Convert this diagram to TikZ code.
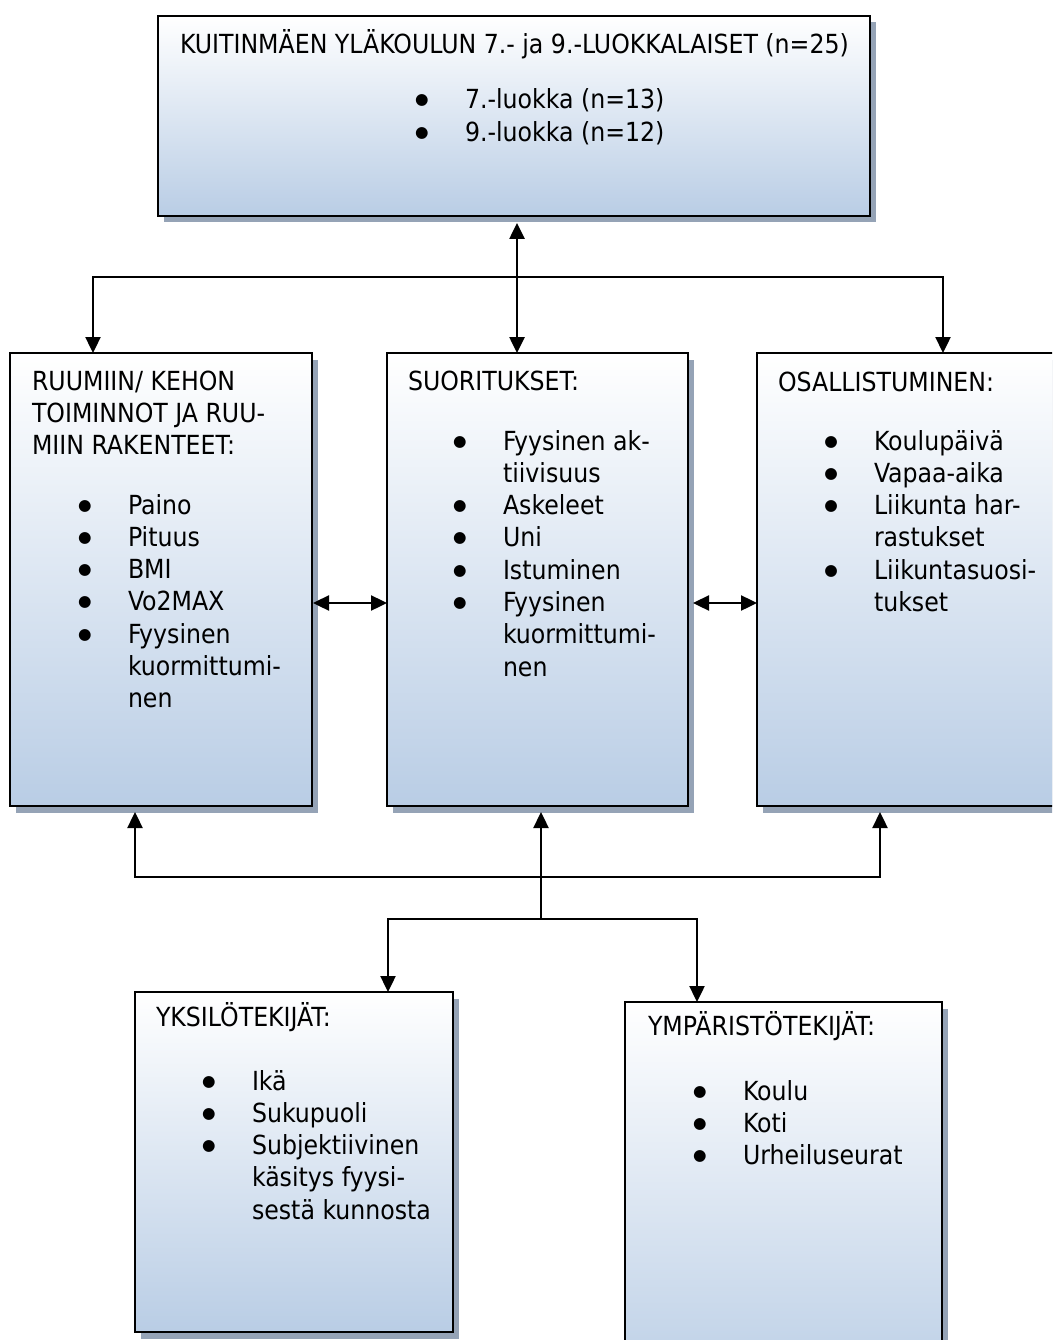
\documentclass[tikz,border=0pt]{standalone}
\usepackage{fontspec}
\setmainfont{DejaVu Sans Condensed}
\newfontfamily\bulfont{DejaVu Sans}
\usetikzlibrary{arrows.meta,shadows}
\definecolor{boxblue}{RGB}{185,205,229}
\definecolor{shadowc}{RGB}{149,163,182}
\newcommand{\bl}{\makebox[0pt]{\raisebox{4pt}{\fontsize{15.5}{15.5}\bulfont ●}}}
\newenvironment{blist}{\begin{tabular}[t]{@{}p{43pt}@{}l@{}}}{\end{tabular}}
\begin{document}
\begin{tikzpicture}[x=1pt,y=-1pt,
  every node/.style={font=\fontsize{26.3}{32.3}\selectfont, inner sep=0pt, outer sep=0pt},
  boxnode/.style={draw=black, line width=2.8pt, top color=white, bottom color=boxblue,
    drop shadow={shadow xshift=5.5pt, shadow yshift=-6.5pt, fill=shadowc, opacity=1},
    anchor=north west, rectangle},
  txt/.style={anchor=base west, align=left},
  conn/.style={line width=2.4pt, -{Triangle[length=16pt,width=15pt]}},
  dconn/.style={line width=2.4pt, {Triangle[length=16pt,width=15pt]}-{Triangle[length=16pt,width=15pt]}}
]
\useasboundingbox (0,0) rectangle (1052,1340);
\clip (0,0) rectangle (1052,1340);

% boxes
\node[boxnode, minimum width=712pt, minimum height=200pt] (top) at (158,16) {};
\node[boxnode, minimum width=302pt, minimum height=453pt] (lft) at (10,353) {};
\node[boxnode, minimum width=301pt, minimum height=453pt] (cen) at (387,353) {};
\node[boxnode, minimum width=302pt, minimum height=453pt] (rgt) at (757,353) {};
\node[boxnode, minimum width=318pt, minimum height=340pt] (yks) at (135,992) {};
\node[boxnode, minimum width=317pt, minimum height=400pt] (ymp) at (625,1002) {};

% texts
\node[txt] (topT) at (180,53.5) {KUITINMÄEN YLÄKOULUN 7.- ja 9.-LUOKKALAISET (n=25)};
\node[txt] (topL) at (422,109) {\begin{blist}\bl & 7.-luokka (n=13)\\ \bl & 9.-luokka (n=12)\end{blist}};

\node[txt] (lftT) at (32,390) {\begin{tabular}[t]{@{}l@{}}RUUMIIN/ KEHON\\ TOIMINNOT JA RUU-\\ MIIN RAKENTEET:\end{tabular}};
\node[txt] (lftL) at (85,514) {\begin{blist}\bl & Paino\\ \bl & Pituus\\ \bl & BMI\\ \bl & Vo2MAX\\ \bl & Fyysinen\\ & kuormittumi-\\ & nen\end{blist}};

\node[txt] (cenT) at (408,390) {SUORITUKSET:};
\node[txt] (cenL) at (460,450) {\begin{blist}\bl & Fyysinen ak-\\ & tiivisuus\\ \bl & Askeleet\\ \bl & Uni\\ \bl & Istuminen\\ \bl & Fyysinen\\ & kuormittumi-\\ & nen\end{blist}};

\node[txt] (rgtT) at (778,391) {OSALLISTUMINEN:};
\node[txt] (rgtL) at (831,450) {\begin{blist}\bl & Koulupäivä\\ \bl & Vapaa-aika\\ \bl & Liikunta har-\\ & rastukset\\ \bl & Liikuntasuosi-\\ & tukset\end{blist}};

\node[txt] (yksT) at (156,1026) {YKSILÖTEKIJÄT:};
\node[txt] (yksL) at (209,1090) {\begin{blist}\bl & Ikä\\ \bl & Sukupuoli\\ \bl & Subjektiivinen\\ & käsitys fyysi-\\ & sestä kunnosta\end{blist}};

\node[txt] (ympT) at (648,1035) {YMPÄRISTÖTEKIJÄT:};
\node[txt] (ympL) at (700,1100) {\begin{blist}\bl & Koulu\\ \bl & Koti\\ \bl & Urheiluseurat\end{blist}};

% connectors
\coordinate (vA) at (517,223);
\draw[dconn, line width=2.6pt] (vA) -- (vA |- cen.north);

\coordinate (tl) at (93,277);
\coordinate (tr) at (943,277);
\draw[dconn] (tl |- lft.north) -- (tl) -- (tr) -- (tr |- rgt.north);

\coordinate (hy) at (0,603);
\coordinate (sR) at (313,603);
\coordinate (sC) at (693,603);
\draw[dconn] (sR) -- (cen.west |- hy);
\draw[dconn] (sC) -- (rgt.west |- hy);

\coordinate (sb) at (0,812);
\coordinate (bL) at (135,877);
\coordinate (bR) at (880,877);
\coordinate (bC) at (541,877);
\coordinate (jC) at (541,919);
\coordinate (jL) at (388,919);
\coordinate (jR) at (697,919);
\draw[dconn] (bL |- sb) -- (bL) -- (bR) -- (bR |- sb);
\draw[conn] (jC) -- (bC |- sb);
\draw[dconn] (jL |- yks.north) -- (jL) -- (jR) -- (jR |- ymp.north);
\end{tikzpicture}
\end{document}
